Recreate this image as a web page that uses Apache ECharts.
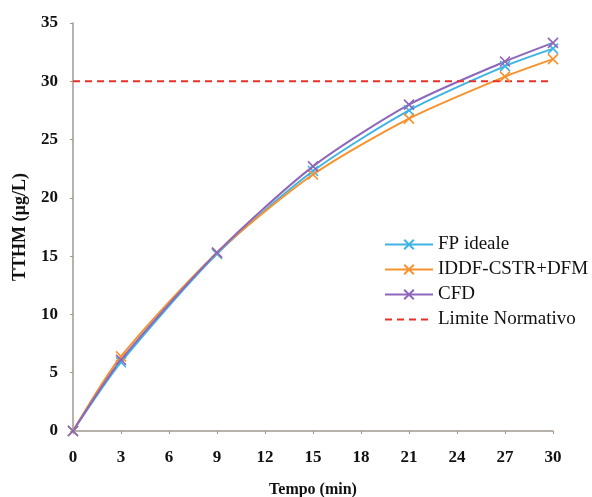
<!DOCTYPE html>
<html>
<head>
<meta charset="utf-8">
<script src="https://cdn.jsdelivr.net/npm/echarts@6/dist/echarts.min.js"></script>
<style>
  html, body { margin: 0; padding: 0; background: #fff; }
  #chart { width: 592px; height: 497px; }
</style>
</head>
<body>
<div id="chart"></div>
<script>
var tempo = [0, 3, 9, 15, 21, 27, 30]
var fpIdeale = [0, 5.9, 15.2, 22.3, 27.5, 31.3, 32.8]
var iddf = [0, 6.4, 15.3, 22.0, 26.8, 30.4, 31.9]
var cfd = [0, 6.1, 15.3, 22.7, 28.0, 31.7, 33.3]
var limite = 30
var limiteRange = [0, 30]

var cross = 'path://M0,0L10,10M10,0L0,10'
var serif = 'Liberation Serif'

function pairs(ys) {
  return tempo.map(function (t, i) { return [t, ys[i]] })
}

function curve(name, color, ys) {
  return {
    name: name,
    type: 'line',
    data: pairs(ys),
    smooth: 0.25,
    symbol: cross,
    symbolSize: 10,
    lineStyle: { color: color, width: 2 },
    itemStyle: { color: 'none', borderColor: color, borderWidth: 1.6 }
  }
}

var chart = echarts.init(document.getElementById('chart'))
chart.setOption({
  backgroundColor: '#fff',
  animation: false,
  textStyle: { fontFamily: serif },
  grid: { left: 73, right: 39, top: 23, bottom: 66, outerBoundsMode: 'none', containLabel: false },
  legend: {
    orient: 'vertical',
    left: 379,
    top: 230,
    itemWidth: 48,
    itemHeight: 12,
    itemGap: 6,
    textStyle: { fontFamily: serif, fontSize: 19, color: '#111' },
    data: [
      'FP ideale',
      'IDDF-CSTR+DFM',
      'CFD',
      { name: 'Limite Normativo', itemStyle: { opacity: 0 } }
    ]
  },
  xAxis: {
    type: 'value',
    min: 0,
    max: 30,
    interval: 3,
    name: 'Tempo (min)',
    nameLocation: 'middle',
    nameGap: 51,
    nameTextStyle: { fontFamily: serif, fontWeight: 'bold', fontSize: 16, color: '#111' },
    splitLine: { show: false },
    axisLine: { lineStyle: { color: '#a09890', width: 1.5 } },
    axisTick: { show: true, length: 3, lineStyle: { color: '#a09890' } },
    axisLabel: { fontFamily: serif, fontWeight: 'bold', fontSize: 17, color: '#111', margin: 18 }
  },
  yAxis: {
    type: 'value',
    min: 0,
    max: 35,
    interval: 5,
    name: 'TTHM (µg/L)',
    nameLocation: 'middle',
    nameGap: 44,
    nameRotate: 90,
    nameTextStyle: { fontFamily: serif, fontWeight: 'bold', fontSize: 18, color: '#111' },
    splitLine: { show: false },
    axisLine: { show: true, lineStyle: { color: '#a09890', width: 1.5 } },
    axisTick: { show: true, length: 3, lineStyle: { color: '#a09890' } },
    axisLabel: { fontFamily: serif, fontWeight: 'bold', fontSize: 17, color: '#111', margin: 15 }
  },
  series: [
    curve('FP ideale', '#3fb3e3', fpIdeale),
    curve('IDDF-CSTR+DFM', '#f7932e', iddf),
    curve('CFD', '#8e66ba', cfd),
    {
      name: 'Limite Normativo',
      type: 'line',
      data: limiteRange.map(function (t) { return [t, limite] }),
      symbol: 'none',
      lineStyle: { color: '#e8302a', width: 2, type: [7, 5] },
      itemStyle: { color: '#e8302a' }
    }
  ]
})
</script>
</body>
</html>
